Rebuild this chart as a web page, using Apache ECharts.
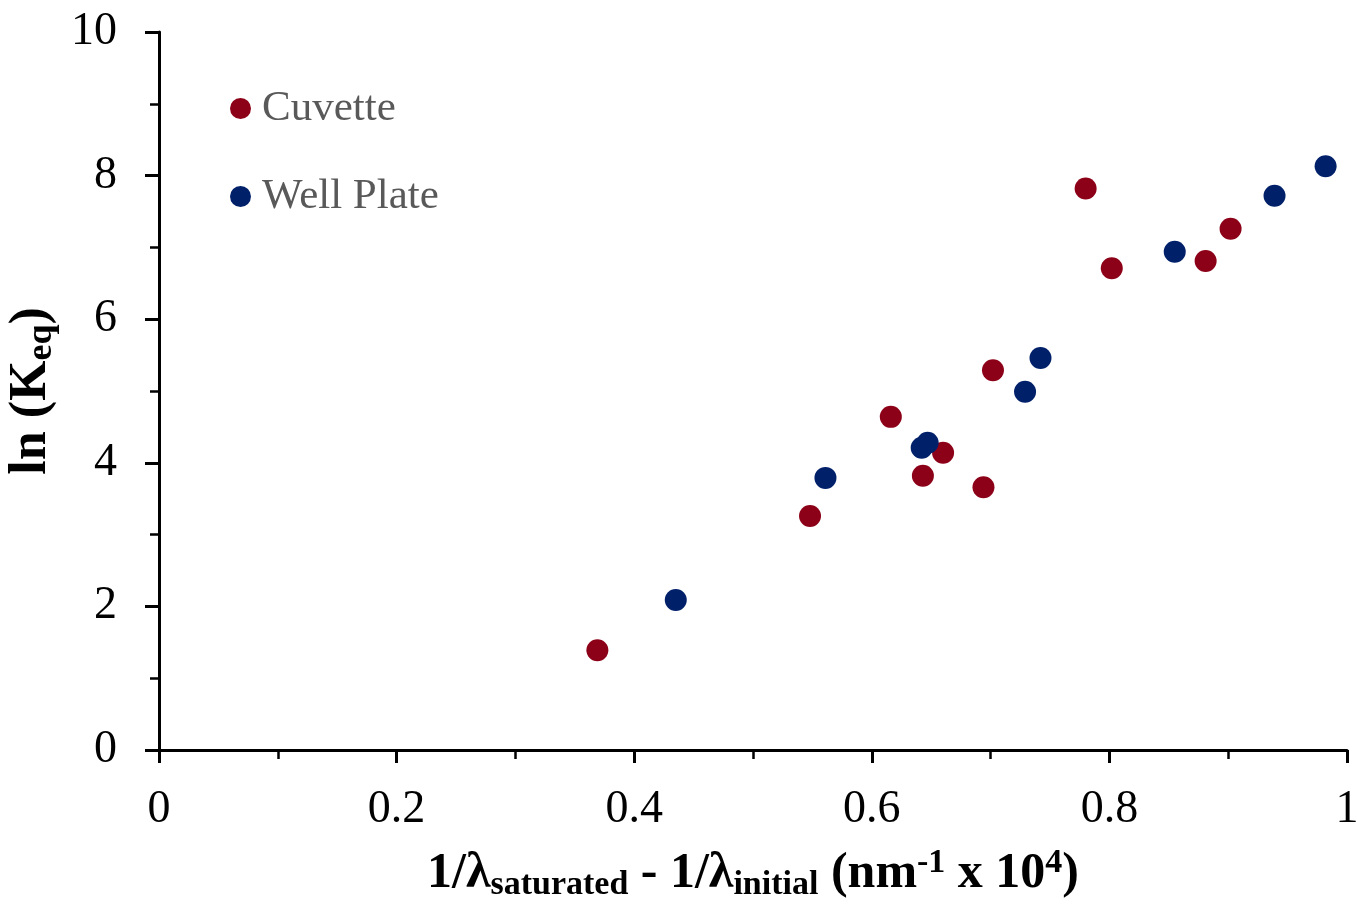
<!DOCTYPE html>
<html><head><meta charset="utf-8">
<script src="https://cdn.jsdelivr.net/npm/echarts@6/dist/echarts.min.js"></script>
<style>html,body{margin:0;padding:0;background:#fff}#c{width:1357px;height:907px}</style>
</head><body><div id="c"></div>
<script>
const cuvetteX = [0.369, 0.548, 0.616, 0.643, 0.660, 0.694, 0.702, 0.780, 0.802, 0.881, 0.902];
const cuvetteY = [1.39, 3.26, 4.64, 3.82, 4.14, 3.66, 5.29, 7.82, 6.71, 6.81, 7.26];
const wellX = [0.435, 0.561, 0.642, 0.647, 0.729, 0.742, 0.855, 0.939, 0.982];
const wellY = [2.09, 3.79, 4.21, 4.28, 4.99, 5.46, 6.94, 7.72, 8.13];
const xTicks = [0, 0.2, 0.4, 0.6, 0.8, 1];
const yTicks = [0, 2, 4, 6, 8, 10];
const seriesNames = ['Cuvette', 'Well Plate'];

const RED = '#8c0018', BLUE = '#00206a';
const SERIF = '"Liberation Serif", "DejaVu Serif", serif';
const zip = (a, b) => a.map((v, i) => [v, b[i]]);
const chart = echarts.init(document.getElementById('c'));
chart.setOption({
  animation: false,
  grid: {left: 159, right: 10, top: 32, bottom: 157, containLabel: false, outerBoundsMode: 'none'},
  legend: {
    orient: 'vertical', left: 225, top: 82, itemGap: 45,
    icon: 'circle', itemWidth: 21, itemHeight: 21,
    textStyle: {fontFamily: SERIF, fontSize: 43, color: '#595959', padding: [0, 0, 0, 6]},
    data: seriesNames
  },
  xAxis: {
    type: 'value', min: xTicks[0], max: xTicks[xTicks.length - 1], interval: 0.2,
    axisLine: {lineStyle: {color: '#000', width: 3}},
    axisTick: {show: true, length: 13, lineStyle: {color: '#000', width: 3}},
    minorTick: {show: true, splitNumber: 2, length: 9, lineStyle: {color: '#000', width: 2.5}},
    splitLine: {show: false},
    axisLabel: {fontFamily: SERIF, fontSize: 46, color: '#000', margin: 37,
      formatter: v => String(+v.toFixed(1))},
    name: '{b|1/λ}{s|saturated}{b| - 1/λ}{s|initial}{b| (nm}{p|-1}{b| x 10}{p|4}{b|)}',
    nameLocation: 'middle', nameGap: 96,
    nameTextStyle: {
      rich: {
        b: {fontFamily: SERIF, fontWeight: 'bold', fontSize: 50, color: '#000', lineHeight: 56, verticalAlign: 'middle'},
        s: {fontFamily: SERIF, fontWeight: 'bold', fontSize: 34, color: '#000', lineHeight: 56, verticalAlign: 'bottom'},
        p: {fontFamily: SERIF, fontWeight: 'bold', fontSize: 34, color: '#000', lineHeight: 56, verticalAlign: 'top'}
      }
    }
  },
  yAxis: {
    type: 'value', min: yTicks[0], max: yTicks[yTicks.length - 1], interval: 2,
    axisLine: {lineStyle: {color: '#000', width: 3}},
    axisTick: {show: true, length: 14, lineStyle: {color: '#000', width: 3}},
    minorTick: {show: true, splitNumber: 2, length: 9, lineStyle: {color: '#000', width: 2.5}},
    splitLine: {show: false},
    axisLabel: {fontFamily: SERIF, fontSize: 46, color: '#000', margin: 42},
    name: '{b|ln (K}{s|eq}{b|)}',
    nameLocation: 'middle', nameGap: 92, nameRotate: 90,
    nameTextStyle: {
      rich: {
        b: {fontFamily: SERIF, fontWeight: 'bold', fontSize: 52, color: '#000', lineHeight: 58, verticalAlign: 'middle'},
        s: {fontFamily: SERIF, fontWeight: 'bold', fontSize: 36, color: '#000', lineHeight: 58, verticalAlign: 'bottom'}
      }
    }
  },
  series: [
    {name: seriesNames[0], type: 'scatter', symbol: 'circle', symbolSize: 22,
      itemStyle: {color: RED, opacity: 1}, data: zip(cuvetteX, cuvetteY)},
    {name: seriesNames[1], type: 'scatter', symbol: 'circle', symbolSize: 22,
      itemStyle: {color: BLUE, opacity: 1}, data: zip(wellX, wellY)}
  ]
});
</script></body></html>
